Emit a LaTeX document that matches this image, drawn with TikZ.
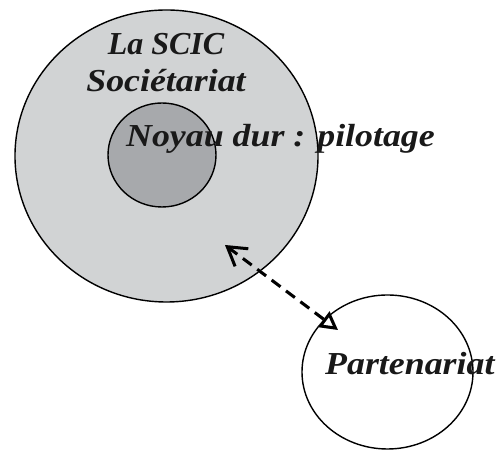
\documentclass[tikz,border=0pt]{standalone}
\usepackage{fontspec}
\usepackage{graphicx}
\setmainfont{Liberation Serif}
\usetikzlibrary{shapes.geometric,arrows.meta}
\definecolor{outergray}{RGB}{209,211,212}
\definecolor{innergray}{RGB}{167,169,172}
\newcommand{\wide}[1]{\scalebox{1.12}[1]{#1}}
\tikzset{
  blob/.style={ellipse, draw=black, line width=1.4pt, inner sep=0pt},
  lbl/.style={font=\fontsize{32}{37}\selectfont\bfseries\itshape, inner sep=0pt, text=black!90},
  link/.style={line width=3pt, dash pattern=on 11pt off 7pt,
    {Straight Barb[length=18pt,width=22pt,line width=3pt]}-{Triangle[open,length=18pt,width=19pt,line width=3pt]}}
}
\begin{document}
\begin{tikzpicture}[x=1pt,y=1pt]
\useasboundingbox (0,0) rectangle (499,454);
\node[blob, fill=outergray, minimum width=303pt, minimum height=292pt] (scic) at (166.5,298) {};
\node[blob, fill=innergray, minimum width=108pt, minimum height=104pt] (noyau) at (162,299) {};
\node[blob, fill=white, minimum width=171pt, minimum height=154pt] (part) at (387.5,82) {};
\node[lbl, anchor=base] (t1) at (166,399) {La SCIC};
\node[lbl, anchor=base] (t2) at (166,362) {\wide{Sociétariat}};
\node[lbl, anchor=base west] (t3) at (126,307) {\wide{Noyau dur : pilotage}};
\node[lbl, anchor=base west] (t4) at (325,79) {\wide{Partenariat}};
\coordinate (a) at (225,209);
\coordinate (b) at (338,124);
\draw[link, draw=black!25, shift={(1.5pt,-1.5pt)}] (a) -- (b);
\draw[link] (a) -- (b);
\end{tikzpicture}
\end{document}
